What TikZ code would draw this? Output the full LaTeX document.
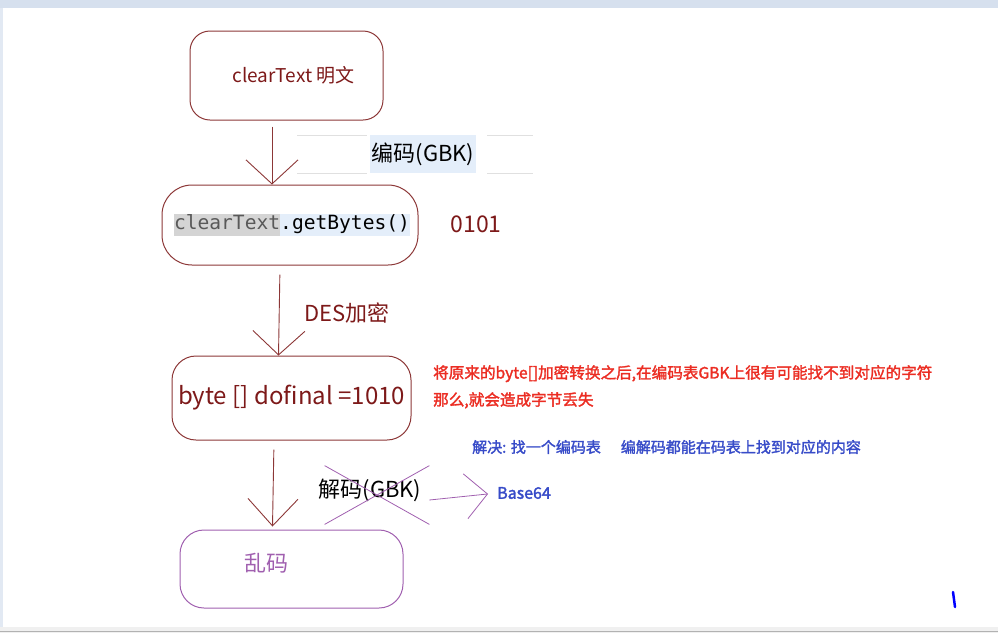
\documentclass[tikz,border=0pt]{standalone}
\usepackage{fontspec}
\setmainfont{Noto Sans CJK SC}
\newfontfamily\heavycjk{Noto Sans CJK SC}[FakeBold=2]
\setmonofont{DejaVu Sans Mono}
\usetikzlibrary{arrows.meta,shapes.misc,positioning}
\usepackage{xcolor}
\definecolor{boxred}{RGB}{140,55,55}
\definecolor{textred}{RGB}{125,25,25}
\definecolor{notered}{RGB}{235,45,35}
\definecolor{noteblue}{RGB}{55,75,200}
\definecolor{garbled}{RGB}{160,95,175}
\definecolor{hlgray}{RGB}{212,212,212}
\definecolor{hlblue}{RGB}{228,238,250}
\definecolor{barblue}{RGB}{214,224,238}

\tikzset{
	stepbox/.style={draw=boxred, line width=1pt, inner sep=0pt},
	flow/.style={draw=boxred, line width=0.9pt, -{Straight Barb[length=24pt,width=52pt]}},
	plabel/.style={inner sep=0pt, font=\fontsize{22pt}{24pt}\selectfont},
	note/.style={inner sep=0pt, anchor=west, font=\heavycjk\fontsize{15pt}{17pt}\selectfont}
}

\begin{document}
\begin{tikzpicture}[x=1pt, y=-1pt]
		\useasboundingbox (0,0) rectangle (998,633);
		% window frame
		\fill[barblue] (0,0) rectangle (998,8);
		\fill[barblue!70] (0,8) rectangle (3,627);
		\fill[black!6] (0,627) rectangle (998,633);
		\draw[black!30] (0,631) -- (998,631);
		% faint table lines behind the label
		\begin{scope}[black!12, line width=0.8pt]
			\draw (297,135) -- (367,135) (487,135) -- (533,135);
			\draw (297,173) -- (367,173) (487,173) -- (533,173);
		\end{scope}
		
		\begin{scope}[every node/.style={stepbox}]
			\node[rounded corners=20pt, minimum width=193pt, minimum height=89pt, text=textred,
			font=\fontsize{19pt}{21pt}\selectfont] (plain) at (286.5,75.5) {\hspace{14pt}clearText 明文};
			\node[rounded corners=30pt, minimum width=256pt, minimum height=80pt] (bytes) at (290,225)
			{{\ttfamily\fontsize{19.6pt}{21pt}\selectfont\setlength\fboxsep{0pt}%
				\hspace{4pt}\colorbox{hlgray}{\strut\textcolor{black!65}{clearText}}\colorbox{hlblue}{\strut .getBytes()}}};
			\node[rounded corners=24pt, minimum width=239pt, minimum height=84pt, text=textred,
			font=\fontsize{24pt}{26pt}\selectfont] (dofinal) at (291.5,398) {byte [] dofinal =1010};
			\node[draw=garbled, rounded corners=24pt, minimum width=223pt, minimum height=78pt] (garble) at (291.5,569) {};
		\end{scope}
		\node[text=garbled, plabel] (garbletext) at (266,563) {乱码};
		
		% labels
		\node[plabel, fill=hlblue, inner xsep=2pt, minimum height=38pt] (encode) at (423,154) {编码(GBK)};
		\node[plabel, text=textred, font=\fontsize{23pt}{25pt}\selectfont] (bits) at (476,224) {0101};
		\node[plabel, text=textred] (des) at (347,313) {DES加密};
		\node[plabel] (decode) at (370,490) {解码(GBK)};
		\node[cross out, draw=garbled, line width=0.8pt, minimum width=104pt, minimum height=58pt] (strike) at (377,495) {};
		\node[note, text=noteblue, font=\heavycjk\fontsize{16pt}{18pt}\selectfont] (base) at (497,493) {Base64};
		
		% notes
		\node[note, text=notered, align=left, anchor=north west,
		font=\heavycjk\fontsize{15.6pt}{27pt}\selectfont] (lost) at (433,365)
		{将原来的byte[]加密转换之后,在编码表GBK上很有可能找不到对应的字符\\那么,就会造成字节丢失};
		\node[note, text=noteblue] (fix) at (472,447) {解决: 找一个编码表\hspace{20pt}编解码都能在码表上找到对应的内容};
		
		% arrows
		\draw[flow, shorten <=6pt] ([xshift=-14.5pt]plain.south) -- ([xshift=-18pt]bytes.north);
		\draw[flow, shorten <=9pt] ([xshift=-10pt]bytes.south) -- ([xshift=-13pt]dofinal.north);
		\draw[flow, shorten <=9pt, -{Straight Barb[length=27pt,width=50pt]}] ([xshift=-17.5pt]dofinal.south) -- ([xshift=-19pt,yshift=3pt]garble.north);
		\draw[draw=garbled, line width=0.8pt, -{Straight Barb[length=22pt,width=45pt]}, shorten >=9pt] ([yshift=-5pt]strike.east) -- (base.west);
		
		% pen mark
		\draw[blue, line width=2.5pt, line cap=round] (953,592) -- (955,607);
	\end{tikzpicture}
\end{document}
